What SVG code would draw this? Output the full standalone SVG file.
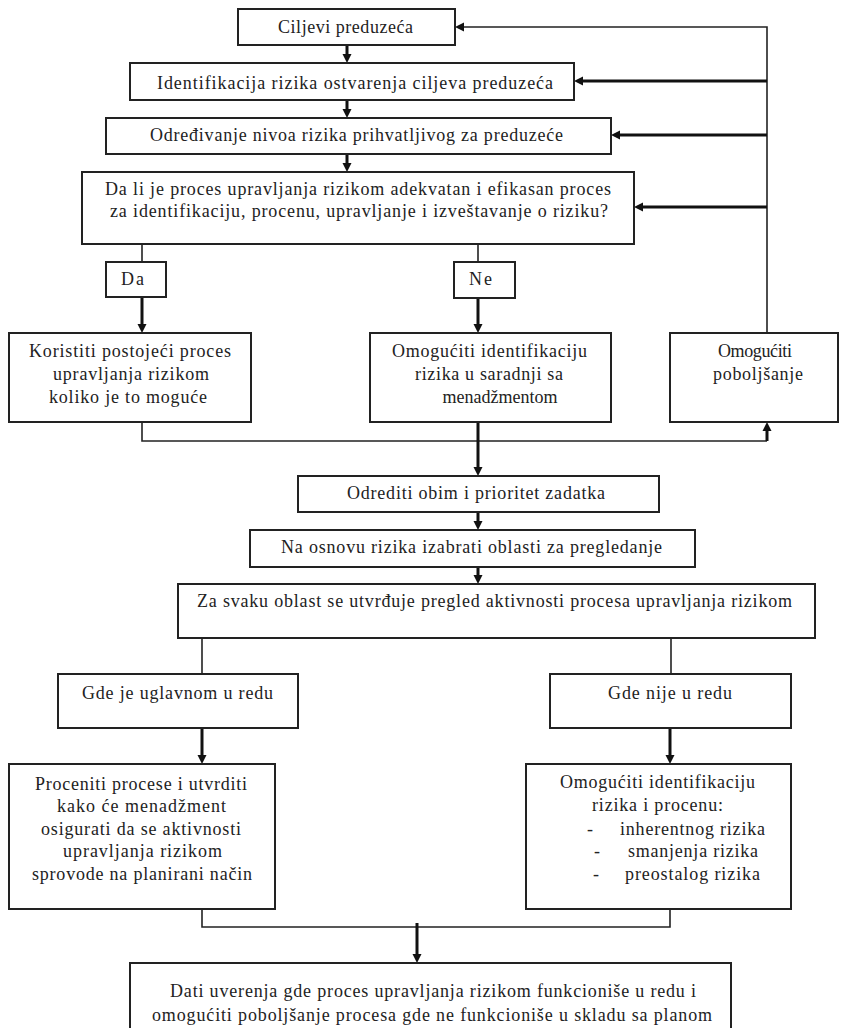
<svg xmlns="http://www.w3.org/2000/svg" width="841" height="1028" viewBox="0 0 841 1028">
<style>
.box{fill:#fff;stroke:#222;stroke-width:2}
.t{font-family:"Liberation Serif","Times New Roman",serif;font-size:18px;fill:#222}
.thin{fill:none;stroke:#222;stroke-width:1.6}
.thick{fill:none;stroke:#111;stroke-width:3}
</style>
<defs>
<marker id="ah" viewBox="0 0 10 10" refX="0" refY="5" markerWidth="9" markerHeight="11" markerUnits="userSpaceOnUse" orient="auto">
<path d="M0,0 L10,5 L0,10 z" fill="#111"/>
</marker>
</defs>
<rect width="841" height="1028" fill="#fff"/>
<g id="connectors">
<polyline class="thin" points="767,333 767,27 464,27" marker-end="url(#ah)"/>
<line class="thick" x1="767" y1="81" x2="583" y2="81" marker-end="url(#ah)"/>
<line class="thick" x1="767" y1="135" x2="620" y2="135" marker-end="url(#ah)"/>
<line class="thick" x1="767" y1="207" x2="643" y2="207" marker-end="url(#ah)"/>
<line class="thick" x1="347" y1="45" x2="347" y2="54" marker-end="url(#ah)"/>
<line class="thick" x1="347" y1="100" x2="347" y2="109" marker-end="url(#ah)"/>
<line class="thick" x1="347" y1="154" x2="347" y2="163" marker-end="url(#ah)"/>
<line class="thin" x1="142" y1="244" x2="142" y2="262"/>
<line class="thick" x1="142" y1="297" x2="142" y2="324" marker-end="url(#ah)"/>
<line class="thin" x1="478" y1="244" x2="478" y2="262"/>
<line class="thick" x1="478" y1="298" x2="478" y2="324" marker-end="url(#ah)"/>
<polyline class="thin" points="142,422 142,441 767,441"/>
<line class="thick" x1="767" y1="441" x2="767" y2="431" marker-end="url(#ah)"/>
<line class="thick" x1="478" y1="422" x2="478" y2="467" marker-end="url(#ah)"/>
<line class="thick" x1="478" y1="512" x2="478" y2="521" marker-end="url(#ah)"/>
<line class="thick" x1="478" y1="567" x2="478" y2="575" marker-end="url(#ah)"/>
<line class="thin" x1="202" y1="638" x2="202" y2="674"/>
<line class="thin" x1="671" y1="638" x2="671" y2="674"/>
<line class="thick" x1="202" y1="728" x2="202" y2="755" marker-end="url(#ah)"/>
<line class="thick" x1="670" y1="728" x2="670" y2="755" marker-end="url(#ah)"/>
<polyline class="thin" points="202,909 202,927 670,927 670,909"/>
<line class="thick" x1="417" y1="923" x2="417" y2="954" marker-end="url(#ah)"/>
</g>
<g id="n1"><rect class="box" x="238" y="9" width="217" height="36"/>
<text class="t" x="278" y="33" textLength="135" lengthAdjust="spacing">Ciljevi preduzeća</text></g>
<g id="n2"><rect class="box" x="130" y="63" width="444" height="37"/>
<text class="t" x="157" y="89" textLength="396" lengthAdjust="spacing">Identifikacija rizika ostvarenja ciljeva preduzeća</text></g>
<g id="n3"><rect class="box" x="106" y="118" width="505" height="36"/>
<text class="t" x="150" y="141" textLength="413" lengthAdjust="spacing">Određivanje nivoa rizika prihvatljivog za preduzeće</text></g>
<g id="n4"><rect class="box" x="82" y="172" width="552" height="72"/>
<text class="t" x="105" y="195" textLength="506" lengthAdjust="spacing">Da li je proces upravljanja rizikom adekvatan i efikasan proces</text>
<text class="t" x="110" y="217" textLength="498" lengthAdjust="spacing">za identifikaciju, procenu, upravljanje i izveštavanje o riziku?</text></g>
<g id="da"><rect class="box" x="106" y="262" width="60" height="35"/>
<text class="t" x="121" y="285" textLength="23" lengthAdjust="spacing">Da</text></g>
<g id="ne"><rect class="box" x="454" y="262" width="61" height="36"/>
<text class="t" x="469" y="285" textLength="23" lengthAdjust="spacing">Ne</text></g>
<g id="n5"><rect class="box" x="9" y="333" width="242" height="89"/>
<text class="t" x="29" y="357" textLength="202" lengthAdjust="spacing">Koristiti postojeći proces</text>
<text class="t" x="53" y="380" textLength="156" lengthAdjust="spacing">upravljanja rizikom</text>
<text class="t" x="49" y="403" textLength="158" lengthAdjust="spacing">koliko je to moguće</text></g>
<g id="n6"><rect class="box" x="370" y="333" width="241" height="89"/>
<text class="t" x="392" y="357" textLength="195" lengthAdjust="spacing">Omogućiti identifikaciju</text>
<text class="t" x="415" y="380" textLength="148" lengthAdjust="spacing">rizika u saradnji sa</text>
<text class="t" x="500" y="403" text-anchor="middle">menadžmentom</text></g>
<g id="n7"><rect class="box" x="670" y="333" width="168" height="89"/>
<text class="t" x="718" y="357" textLength="74" lengthAdjust="spacing">Omogućiti</text>
<text class="t" x="713" y="380" textLength="90" lengthAdjust="spacing">poboljšanje</text></g>
<g id="n8"><rect class="box" x="298" y="476" width="361" height="36"/>
<text class="t" x="347" y="499" textLength="258" lengthAdjust="spacing">Odrediti obim i prioritet zadatka</text></g>
<g id="n9"><rect class="box" x="250" y="530" width="445" height="37"/>
<text class="t" x="281" y="553" textLength="381" lengthAdjust="spacing">Na osnovu rizika izabrati oblasti za pregledanje</text></g>
<g id="n10"><rect class="box" x="178" y="584" width="637" height="54"/>
<text class="t" x="197" y="607" textLength="595" lengthAdjust="spacing">Za svaku oblast se utvrđuje pregled aktivnosti procesa upravljanja rizikom</text></g>
<g id="n11"><rect class="box" x="58" y="674" width="240" height="54"/>
<text class="t" x="82" y="699" textLength="191" lengthAdjust="spacing">Gde je uglavnom u redu</text></g>
<g id="n12"><rect class="box" x="550" y="674" width="241" height="54"/>
<text class="t" x="608" y="699" textLength="124" lengthAdjust="spacing">Gde nije u redu</text></g>
<g id="n13"><rect class="box" x="9" y="764" width="266" height="145"/>
<text class="t" x="35" y="790" textLength="212" lengthAdjust="spacing">Proceniti procese i utvrditi</text>
<text class="t" x="57" y="812" textLength="169" lengthAdjust="spacing">kako će menadžment</text>
<text class="t" x="41" y="835" textLength="200" lengthAdjust="spacing">osigurati da se aktivnosti</text>
<text class="t" x="63" y="857" textLength="159" lengthAdjust="spacing">upravljanja rizikom</text>
<text class="t" x="32" y="880" textLength="220" lengthAdjust="spacing">sprovode na planirani način</text></g>
<g id="n14"><rect class="box" x="526" y="764" width="265" height="145"/>
<text class="t" x="560" y="788" textLength="195" lengthAdjust="spacing">Omogućiti identifikaciju</text>
<text class="t" x="592" y="811" textLength="131" lengthAdjust="spacing">rizika i procenu:</text>
<text class="t" x="587" y="835">-</text>
<text class="t" x="620" y="835" textLength="145" lengthAdjust="spacing">inherentnog rizika</text>
<text class="t" x="594" y="857">-</text>
<text class="t" x="628" y="857" textLength="130" lengthAdjust="spacing">smanjenja rizika</text>
<text class="t" x="593" y="880">-</text>
<text class="t" x="625" y="880" textLength="135" lengthAdjust="spacing">preostalog rizika</text></g>
<g id="n15"><rect class="box" x="130" y="963" width="601" height="80"/>
<text class="t" x="170" y="997" textLength="526" lengthAdjust="spacing">Dati uverenja gde proces upravljanja rizikom funkcioniše u redu i</text>
<text class="t" x="152" y="1021" textLength="560" lengthAdjust="spacing">omogućiti poboljšanje procesa gde ne funkcioniše u skladu sa planom</text></g>
</svg>
